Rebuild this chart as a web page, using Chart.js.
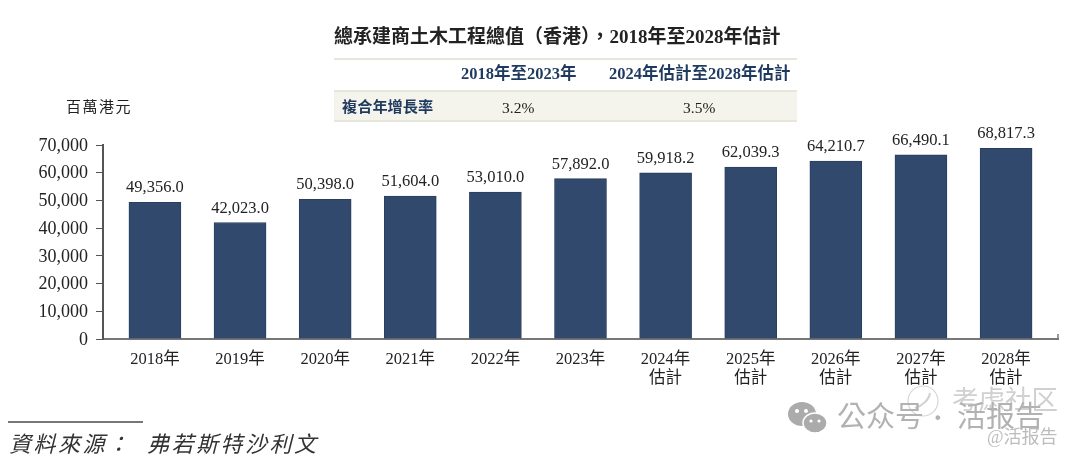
<!DOCTYPE html>
<html>
<head>
<meta charset="utf-8">
<script src="https://cdn.jsdelivr.net/npm/chart.js@4/dist/chart.umd.min.js"></script>
<style>
    body { margin: 0; background: #fff; }
    #wrap { position: relative; width: 1080px; height: 462px; overflow: hidden; font-family: "Liberation Serif", "Noto Sans CJK TC", serif; color: #222; }
    #wrap canvas { position: absolute; left: 0; top: 0; }
    .t { position: absolute; white-space: nowrap; line-height: 1; }
    .rule { position: absolute; }
    .head { color: #1f3a5f; font-weight: bold; font-size: 16.5px; }
    .mark { color: #b2b2b2; }
</style>
</head>
<body>
<div id="wrap">
    <canvas id="chart" width="1080" height="462"></canvas>

    <div class="t" style="left:334px;top:27px;font-size:19px;font-weight:bold;">總承建商土木工程總值（香港），2018年至2028年估計</div>

    <div class="rule" style="left:334px;top:91px;width:463px;height:29px;background:#f4f3ec;"></div>
    <div class="rule" style="left:334px;top:58px;width:463px;height:2px;background:#e4e7da;"></div>
    <div class="rule" style="left:334px;top:90px;width:463px;height:2px;background:#e4e7da;"></div>
    <div class="rule" style="left:334px;top:120px;width:463px;height:2px;background:#e4e7da;"></div>
    <div class="t head" style="left:461px;top:66px;">2018年至2023年</div>
    <div class="t head" style="left:609px;top:66px;">2024年估計至2028年估計</div>
    <div class="t head" style="left:342px;top:99px;font-size:15.2px;">複合年增長率</div>
    <div class="t" style="left:502px;top:100px;font-size:15.5px;">3.2%</div>
    <div class="t" style="left:683px;top:100px;font-size:15.5px;">3.5%</div>

    <div class="t" style="left:66px;top:100px;font-size:15px;letter-spacing:1.5px;">百萬港元</div>

    <div class="rule" style="left:8px;top:421px;width:135px;height:2px;background:#777;"></div>
    <div class="t" style="left:9px;top:434px;font-size:22px;font-style:italic;color:#333;letter-spacing:2.5px;">資料來源：</div>
    <div class="t" style="left:147px;top:434px;font-size:22px;font-style:italic;color:#333;letter-spacing:2.5px;">弗若斯特沙利文</div>

    <!-- watermark over the chart -->
    <svg class="rule" style="left:787px;top:401px;" width="42" height="34" viewBox="0 0 42 34">
        <ellipse cx="15" cy="13" rx="14" ry="12" fill="#ababab"/>
        <ellipse cx="28" cy="22" rx="12" ry="10" fill="#ababab" stroke="#fff" stroke-width="1.5"/>
        <circle cx="10" cy="10" r="2" fill="#fff"/><circle cx="19" cy="10" r="2" fill="#fff"/>
        <circle cx="24" cy="20" r="1.6" fill="#fff"/><circle cx="32" cy="20" r="1.6" fill="#fff"/>
    </svg>
    <svg class="rule" style="left:906px;top:384px;" width="34" height="34" viewBox="0 0 34 34">
        <circle cx="17" cy="17" r="15" fill="none" stroke="#d6d6d6" stroke-width="1.2"/>
        <path d="M9 24 C16 22 23 16 24 9" fill="none" stroke="#d0d0d0" stroke-width="2"/>
    </svg>
    <div class="t" style="left:952px;top:387px;font-size:26.5px;color:#d0d0d0;">考虑社区</div>
    <div class="t mark" style="left:837px;top:403px;font-size:29px;">公众号</div>
    <div class="t mark" style="left:933px;top:403px;font-size:29px;line-height:29px;font-weight:bold;">·</div>
    <div class="t mark" style="left:957px;top:403px;font-size:29px;">活报告</div>
    <div class="t" style="left:987px;top:428px;font-size:18px;color:#bcbcbc;">@活报告</div>
</div>

<script>
// values
const years = ['2018年', '2019年', '2020年', '2021年', '2022年', '2023年', '2024年', '2025年', '2026年', '2027年', '2028年'];
const estimateNote = '估計';
const firstEstimate = 6; // from 2024 on the label has a second line
const grossValue = [49356.0, 42023.0, 50398.0, 51604.0, 53010.0, 57892.0, 59918.2, 62039.3, 64210.7, 66490.1, 68817.3];
const valueTicks = [0, 10000, 20000, 30000, 40000, 50000, 60000, 70000];

const serif = '"Liberation Serif", "Noto Sans CJK TC", serif';

// Numbers above each bar, plus the small end tick on the x axis
const valueLabels = {
    id: 'valueLabels',
    afterDatasetsDraw(chart) {
        const ctx = chart.ctx;
        const bars = chart.getDatasetMeta(0).data;
        ctx.save();
        ctx.font = '16.5px ' + serif;
        ctx.fillStyle = '#222';
        ctx.textAlign = 'center';
        ctx.textBaseline = 'bottom';
        bars.forEach((bar, i) => {
            const txt = grossValue[i].toLocaleString('en-US', { minimumFractionDigits: 1 });
            ctx.fillText(txt, bar.x, bar.y - 6);
        });
        const area = chart.chartArea;
        ctx.strokeStyle = '#777';
        ctx.lineWidth = 1.5;
        ctx.beginPath();
        ctx.moveTo(area.right, area.bottom);
        ctx.lineTo(area.right, area.bottom - 5);
        ctx.stroke();
        ctx.restore();
    }
};

new Chart(document.getElementById('chart').getContext('2d'), {
    type: 'bar',
    data: {
        datasets: [{
            data: grossValue.map((v, i) => ({ x: i, y: v })),
            backgroundColor: '#30496d',
            borderColor: '#2a3f5e',
            borderWidth: 1,
            barThickness: 52
        }]
    },
    plugins: [valueLabels],
    options: {
        responsive: false,
        animation: false,
        layout: { padding: { top: 145, right: 22, left: 0, bottom: 0 } },
        plugins: { legend: { display: false }, tooltip: { enabled: false } },
        scales: {
            x: {
                type: 'linear',
                offset: false,
                min: -0.61,
                max: 10.61,
                afterBuildTicks: (scale) => { scale.ticks = years.map((y, i) => ({ value: i })); },
                afterFit: (scale) => { scale.height = 123; },
                grid: { display: false },
                border: { color: '#777', width: 2 },
                ticks: {
                    autoSkip: false,
                    maxRotation: 0,
                    padding: 3,
                    color: '#222',
                    font: { family: serif, size: 16.5, lineHeight: 1.15 },
                    callback: (v) => (v >= firstEstimate ? [years[v], estimateNote] : years[v])
                }
            },
            y: {
                min: 0,
                max: 70000,
                afterBuildTicks: (scale) => { scale.ticks = valueTicks.map(v => ({ value: v })); },
                afterFit: (scale) => { scale.width = 103; },
                grid: { drawOnChartArea: false, drawTicks: true, tickLength: 7, color: '#555' },
                border: { color: '#555', width: 2 },
                ticks: {
                    padding: 8,
                    labelOffset: 1,
                    color: '#222',
                    font: { family: serif, size: 18 },
                    callback: (v) => v.toLocaleString('en-US')
                }
            }
        }
    }
});
</script>
</body>
</html>
